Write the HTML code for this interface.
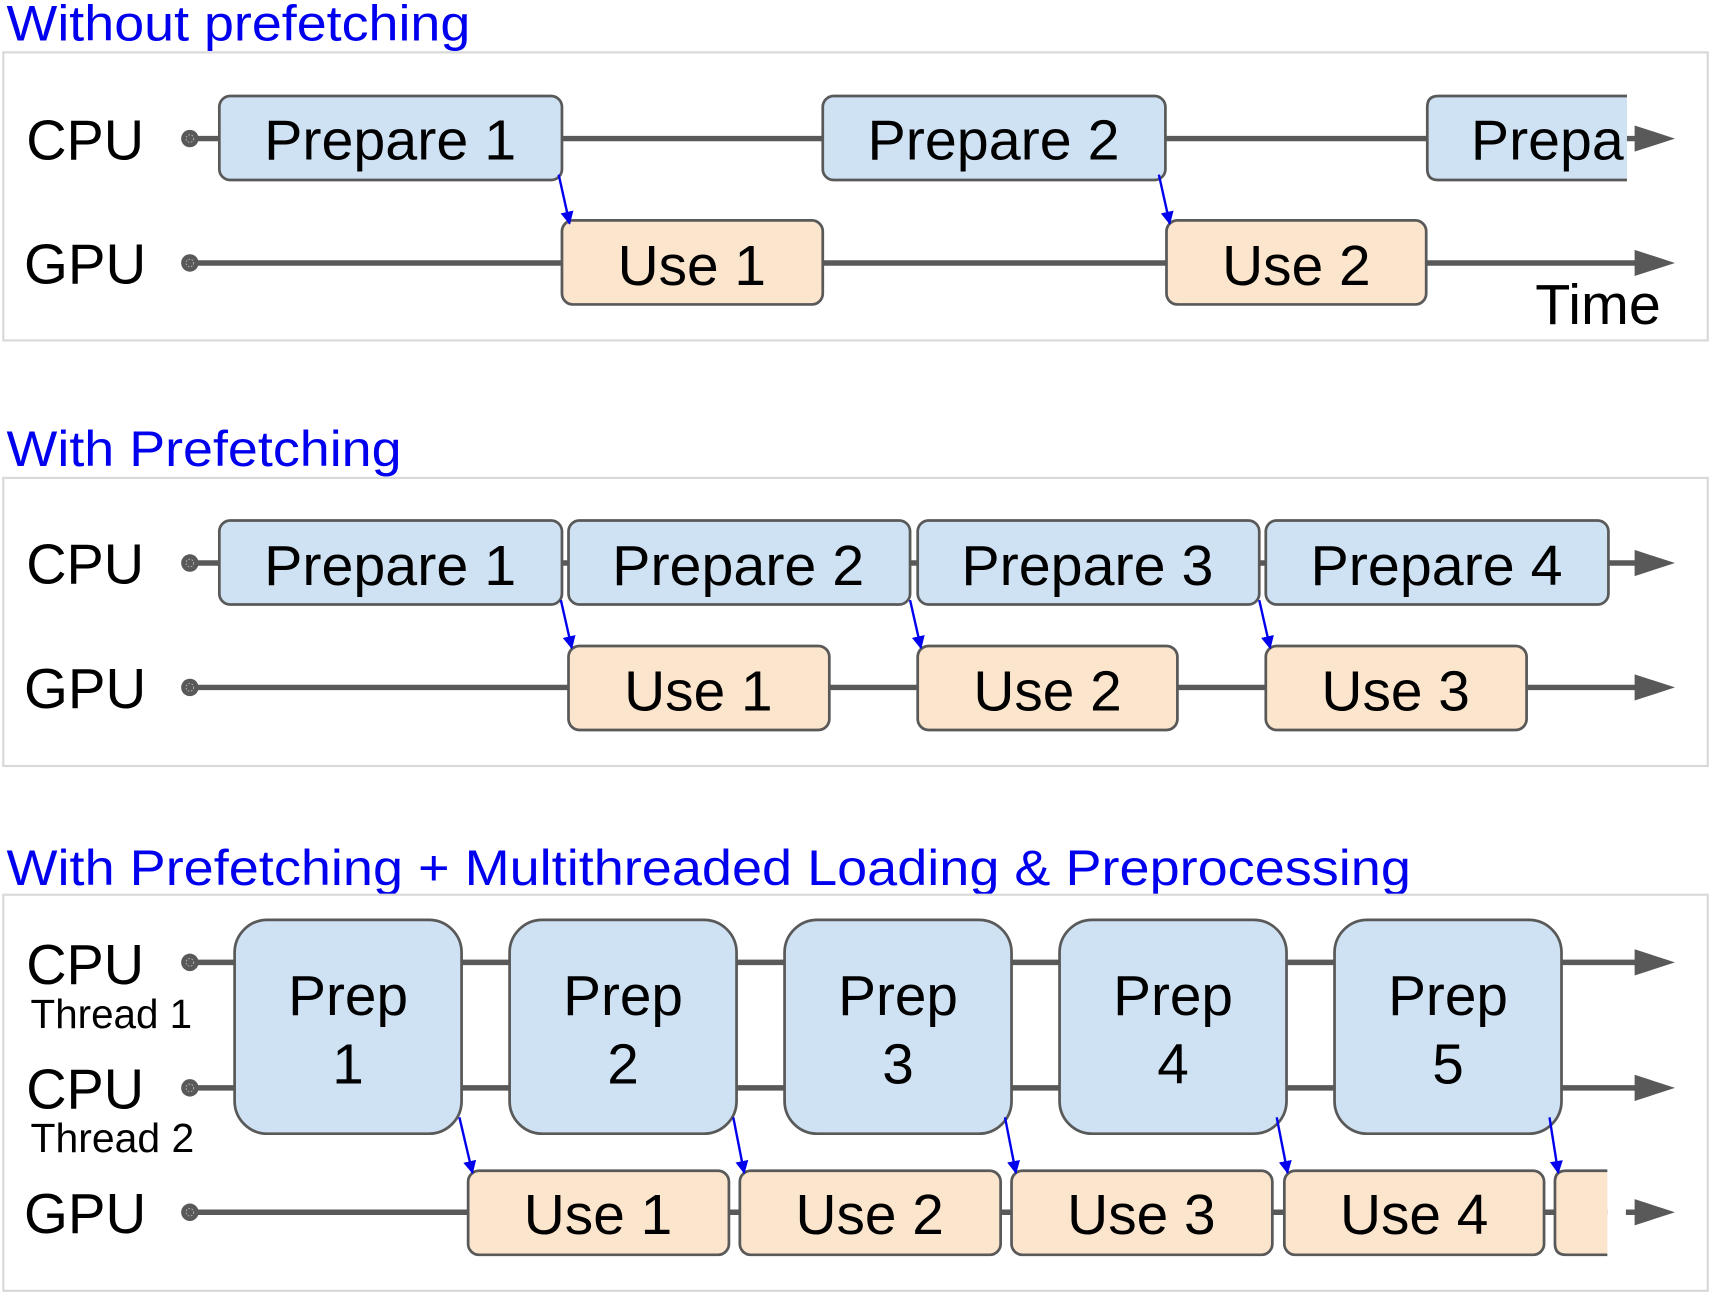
<!DOCTYPE html>
<html><head><style>html,body{margin:0;padding:0;background:#fff}svg{display:block}</style></head>
<body>
<svg width="1711" height="1293" viewBox="0 0 1568 1185" preserveAspectRatio="none" xmlns="http://www.w3.org/2000/svg" font-family="Liberation Sans, Arial, sans-serif">
<defs>
<marker id="ba" markerWidth="12" markerHeight="12" refX="11" refY="6" orient="auto" markerUnits="userSpaceOnUse" viewBox="0 0 12 12"><path d="M0,0 L12,6 L0,12 z" fill="#0000ee"/></marker>
</defs>
<g fill="#0000ee" font-size="46" lengthAdjust="spacingAndGlyphs">
<text x="6" y="37" textLength="425" lengthAdjust="spacingAndGlyphs">Without prefetching</text>
<text x="6" y="427" textLength="362" lengthAdjust="spacingAndGlyphs">With Prefetching</text>
<text x="6" y="811" textLength="1287" lengthAdjust="spacingAndGlyphs">With Prefetching + Multithreaded Loading &amp; Preprocessing</text>
</g>
<g fill="none" stroke="#d9d9d9" stroke-width="2">
<rect x="3" y="48" width="1562" height="264"/>
<rect x="3" y="438" width="1562" height="264"/>
<rect x="3" y="820" width="1562" height="363"/>
</g>
<g stroke="#595959" stroke-width="5">
<line x1="174" y1="127" x2="1500" y2="127"/>
<line x1="174" y1="241" x2="1500" y2="241"/>
<line x1="174" y1="516" x2="1500" y2="516"/>
<line x1="174" y1="630" x2="1500" y2="630"/>
<line x1="174" y1="882" x2="1500" y2="882"/>
<line x1="174" y1="997" x2="1500" y2="997"/>
<line x1="174" y1="1111" x2="1473" y2="1111"/>
<line x1="1490" y1="1111" x2="1500" y2="1111"/>
</g>
<g fill="#595959">
<path d="M1498,115 L1535,127 L1498,139 z"/>
<path d="M1498,229 L1535,241 L1498,253 z"/>
<path d="M1498,504 L1535,516 L1498,528 z"/>
<path d="M1498,618 L1535,630 L1498,642 z"/>
<path d="M1498,870 L1535,882 L1498,894 z"/>
<path d="M1498,985 L1535,997 L1498,1009 z"/>
<path d="M1498,1099 L1535,1111 L1498,1123 z"/>
</g>
<g fill="#595959">
<circle cx="174" cy="127" r="8"/><circle cx="174" cy="241" r="8"/>
<circle cx="174" cy="516" r="8"/><circle cx="174" cy="630" r="8"/>
<circle cx="174" cy="882" r="8"/><circle cx="174" cy="997" r="8"/><circle cx="174" cy="1111" r="8"/>
</g>
<g fill="none" stroke="#bbb" stroke-width="0.8" stroke-dasharray="1.5,1.5">
<circle cx="174" cy="127" r="3.5"/><circle cx="174" cy="241" r="3.5"/>
<circle cx="174" cy="516" r="3.5"/><circle cx="174" cy="630" r="3.5"/>
<circle cx="174" cy="882" r="3.5"/><circle cx="174" cy="997" r="3.5"/><circle cx="174" cy="1111" r="3.5"/>
</g>
<g font-size="52" fill="#000">
<text x="24" y="146" textLength="108" lengthAdjust="spacingAndGlyphs">CPU</text><text x="22" y="260" textLength="112" lengthAdjust="spacingAndGlyphs">GPU</text>
<text x="24" y="535" textLength="108" lengthAdjust="spacingAndGlyphs">CPU</text><text x="22" y="649" textLength="112" lengthAdjust="spacingAndGlyphs">GPU</text>
<text x="24" y="902" textLength="108" lengthAdjust="spacingAndGlyphs">CPU</text><text x="24" y="1016" textLength="108" lengthAdjust="spacingAndGlyphs">CPU</text><text x="22" y="1130" textLength="112" lengthAdjust="spacingAndGlyphs">GPU</text>
<text x="1407" y="297" textLength="115" lengthAdjust="spacingAndGlyphs">Time</text>
</g>
<g font-size="37" fill="#000"><text x="28" y="942" textLength="148" lengthAdjust="spacingAndGlyphs">Thread 1</text><text x="28" y="1056" textLength="150" lengthAdjust="spacingAndGlyphs">Thread 2</text></g>
<g fill="#cfe2f3" stroke="#595959" stroke-width="2.5">
<rect x="201" y="88" width="314" height="77" rx="10"/>
<rect x="754" y="88" width="314" height="77" rx="10"/>
<path d="M1491,88 L1318,88 Q1308,88 1308,98 L1308,155 Q1308,165 1318,165 L1491,165"/>
<rect x="201" y="477" width="314" height="77" rx="10"/>
<rect x="521" y="477" width="313" height="77" rx="10"/>
<rect x="841" y="477" width="313" height="77" rx="10"/>
<rect x="1160" y="477" width="314" height="77" rx="10"/>
<rect x="215" y="843" width="208" height="196" rx="30"/>
<rect x="467" y="843" width="208" height="196" rx="30"/>
<rect x="719" y="843" width="208" height="196" rx="30"/>
<rect x="971" y="843" width="208" height="196" rx="30"/>
<rect x="1223" y="843" width="208" height="196" rx="30"/>
</g>
<g fill="#fce5cd" stroke="#595959" stroke-width="2.5">
<rect x="515" y="202" width="239" height="77" rx="10"/>
<rect x="1069" y="202" width="238" height="77" rx="10"/>
<rect x="521" y="592" width="239" height="77" rx="10"/>
<rect x="841" y="592" width="238" height="77" rx="10"/>
<rect x="1160" y="592" width="239" height="77" rx="10"/>
<rect x="429" y="1073" width="239" height="77" rx="10"/>
<rect x="678" y="1073" width="239" height="77" rx="10"/>
<rect x="927" y="1073" width="239" height="77" rx="10"/>
<rect x="1177" y="1073" width="238" height="77" rx="10"/>
<path d="M1473,1073 L1435,1073 Q1425,1073 1425,1083 L1425,1140 Q1425,1150 1435,1150 L1473,1150"/>
</g>
<rect x="1491" y="86" width="6" height="30" fill="#fff"/><rect x="1491" y="138" width="6" height="30" fill="#fff"/>
<g font-size="52" fill="#000">
<text x="242" y="146" textLength="231" lengthAdjust="spacingAndGlyphs">Prepare 1</text><text x="795" y="146" textLength="231" lengthAdjust="spacingAndGlyphs">Prepare 2</text>
<text x="566" y="261" textLength="136" lengthAdjust="spacingAndGlyphs">Use 1</text><text x="1120" y="261" textLength="136" lengthAdjust="spacingAndGlyphs">Use 2</text>
<text x="242" y="536" textLength="231" lengthAdjust="spacingAndGlyphs">Prepare 1</text><text x="561" y="536" textLength="231" lengthAdjust="spacingAndGlyphs">Prepare 2</text><text x="881" y="536" textLength="231" lengthAdjust="spacingAndGlyphs">Prepare 3</text><text x="1201" y="536" textLength="231" lengthAdjust="spacingAndGlyphs">Prepare 4</text>
<text x="572" y="651" textLength="136" lengthAdjust="spacingAndGlyphs">Use 1</text><text x="892" y="651" textLength="136" lengthAdjust="spacingAndGlyphs">Use 2</text><text x="1211" y="651" textLength="136" lengthAdjust="spacingAndGlyphs">Use 3</text>
<text x="480" y="1131" textLength="136" lengthAdjust="spacingAndGlyphs">Use 1</text><text x="729" y="1131" textLength="136" lengthAdjust="spacingAndGlyphs">Use 2</text><text x="978" y="1131" textLength="136" lengthAdjust="spacingAndGlyphs">Use 3</text><text x="1228" y="1131" textLength="136" lengthAdjust="spacingAndGlyphs">Use 4</text>
<text x="1348" y="146" textLength="140" lengthAdjust="spacingAndGlyphs">Prepa</text>
</g>
<g font-size="52" fill="#000" text-anchor="middle">
<text x="319" y="930">Prep</text><text x="319" y="993">1</text>
<text x="571" y="930">Prep</text><text x="571" y="993">2</text>
<text x="823" y="930">Prep</text><text x="823" y="993">3</text>
<text x="1075" y="930">Prep</text><text x="1075" y="993">4</text>
<text x="1327" y="930">Prep</text><text x="1327" y="993">5</text>
</g>
<g stroke="#0000ee" stroke-width="2.2" marker-end="url(#ba)">
<line x1="512" y1="160" x2="522" y2="205"/>
<line x1="1062" y1="160" x2="1072" y2="205"/>
<line x1="514" y1="550" x2="524" y2="594"/>
<line x1="834" y1="550" x2="844" y2="594"/>
<line x1="1154" y1="550" x2="1164" y2="594"/>
<line x1="421" y1="1024" x2="433" y2="1075"/>
<line x1="672" y1="1024" x2="682" y2="1075"/>
<line x1="921" y1="1024" x2="931" y2="1075"/>
<line x1="1170" y1="1024" x2="1180" y2="1075"/>
<line x1="1420" y1="1024" x2="1428" y2="1075"/>
</g>
</svg>
</body></html>
